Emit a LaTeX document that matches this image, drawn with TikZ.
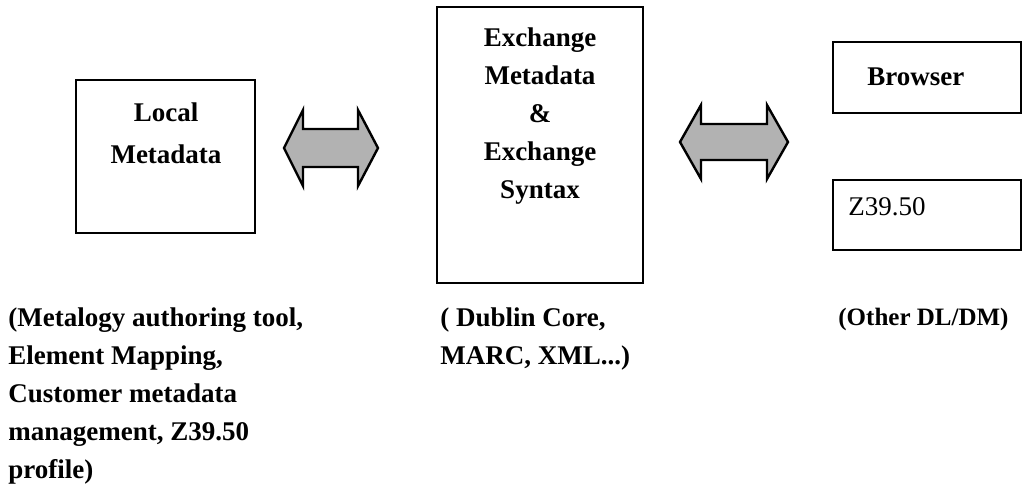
\documentclass[tikz,border=0pt]{standalone}
\usepackage{fontspec}
\setmainfont{Liberation Serif}
\usepackage{tikz}

\tikzset{
  mdbox/.style={draw, line width=1.2pt},
  mdtext/.style={font=\fontsize{13.5}{20}\selectfont\bfseries, inner sep=0pt},
  fatarrow/.style={draw, line width=1.2pt, fill=gray!60, line join=miter}
}

\begin{document}
\begin{tikzpicture}[x=0.5pt, y=-0.5pt]
                \useasboundingbox (0,0) rectangle (1023,500);
                % boxes
                \draw[mdbox] (76,80) rectangle (255,233);
                \draw[mdbox] (437,7) rectangle (643,283);
                \draw[mdbox] (833,42) rectangle (1021,113);
                \draw[mdbox] (833,180) rectangle (1021,250);
                % box texts
                \node[mdtext, align=center] (local) at (166,133) {Local\\[1pt]Metadata};
                \node[mdtext, align=center, font=\fontsize{13.5}{19}\selectfont\bfseries] (exch) at (540,116)
                    {Exchange\\Metadata\\\&\\Exchange\\Syntax};
                \node[mdtext, anchor=west] (browser) at (867,77) {Browser};
                \node[inner sep=0pt, anchor=west, font=\fontsize{13.5}{20}\selectfont] (zthree) at (848,207) {Z39.50};
                % arrows
                \filldraw[fatarrow] (284,148) -- (303,110) -- (303,129) -- (358,129) -- (358,110)
                    -- (378,148) -- (358,186) -- (358,167) -- (303,167) -- (303,186) -- cycle;
                \filldraw[fatarrow] (680,142) -- (701,105) -- (701,124) -- (767,124) -- (767,105)
                    -- (788,142) -- (767,179) -- (767,160) -- (701,160) -- (701,179) -- cycle;
                % captions
                \node[mdtext, align=left, anchor=north west, font=\fontsize{13.5}{19}\selectfont\bfseries] (ltools) at (8,307)
                    {(Metalogy authoring tool,\\Element Mapping,\\Customer metadata\\management, Z39.50\\profile)};
                \node[mdtext, align=left, anchor=north west, font=\fontsize{13.5}{19}\selectfont\bfseries] (formats) at (440,307)
                    {( Dublin Core,\\MARC, XML...)};
                \node[mdtext, anchor=north west, font=\fontsize{12.5}{19}\selectfont\bfseries] (others) at (838,308) {(Other DL/DM)};
            \end{tikzpicture}
\end{document}
